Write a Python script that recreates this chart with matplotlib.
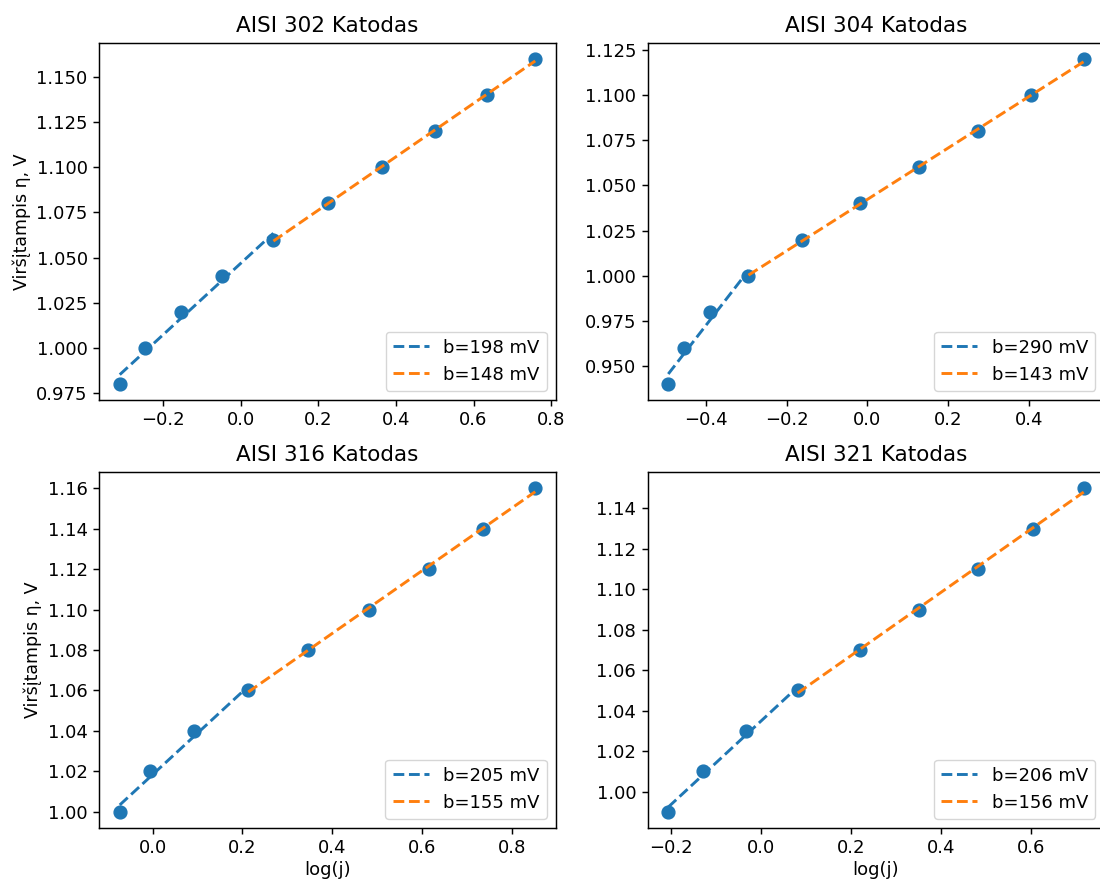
import numpy as np
import matplotlib
matplotlib.use("Agg")
import matplotlib.pyplot as plt
from matplotlib.ticker import FormatStrFormatter

# Tafel data for four stainless-steel cathodes: log(j) vs overpotential (V)
titles = ["AISI 302 Katodas", "AISI 304 Katodas", "AISI 316 Katodas", "AISI 321 Katodas"]

logj_302 = [-0.312, -0.248, -0.154, -0.048, 0.084, 0.224, 0.364, 0.501, 0.634, 0.759]
eta_302 = [0.98, 1.00, 1.02, 1.04, 1.06, 1.08, 1.10, 1.12, 1.14, 1.16]

logj_304 = [-0.492, -0.454, -0.389, -0.294, -0.162, -0.018, 0.128, 0.274, 0.405, 0.534]
eta_304 = [0.94, 0.96, 0.98, 1.00, 1.02, 1.04, 1.06, 1.08, 1.10, 1.12]

logj_316 = [-0.073, -0.006, 0.093, 0.213, 0.347, 0.481, 0.615, 0.736, 0.852]
eta_316 = [1.00, 1.02, 1.04, 1.06, 1.08, 1.10, 1.12, 1.14, 1.16]

logj_321 = [-0.207, -0.130, -0.035, 0.081, 0.219, 0.352, 0.483, 0.606, 0.718]
eta_321 = [0.99, 1.01, 1.03, 1.05, 1.07, 1.09, 1.11, 1.13, 1.15]

# index of the point where the Tafel slope changes
break_idx = [4, 3, 3, 3]

# Tafel slopes (mV/decade) for the low and high current regions
slope_low_mV = [198, 290, 205, 206]
slope_high_mV = [148, 143, 155, 156]

series = [(logj_302, eta_302), (logj_304, eta_304),
          (logj_316, eta_316), (logj_321, eta_321)]

plt.rcParams.update({
    "font.family": "DejaVu Sans",
    "font.size": 13,
    "axes.titlesize": 15.5,
    "axes.labelsize": 13,
    "xtick.labelsize": 13,
    "ytick.labelsize": 13,
    "legend.fontsize": 13,
    "axes.linewidth": 1.05,
    "xtick.major.width": 1.05,
    "ytick.major.width": 1.05,
    "xtick.major.size": 4.6,
    "ytick.major.size": 4.6,
})

W, H = 1100, 882
fig = plt.figure(figsize=(W / 100, H / 100), dpi=100)

# axes boxes in pixels: left, top, width, height
boxes = [(99, 43, 457, 357), (647.5, 43, 457, 357),
         (99, 472, 457, 356), (647.5, 472, 457, 356)]

blue = "#1f77b4"
orange = "#ff7f0e"


def segment_line(x, y, b):
    """Line with the given slope b through the centroid of the segment."""
    x = np.asarray(x, float)
    y = np.asarray(y, float)
    a = y.mean() - b * x.mean()
    return x, a + b * x


for i, (x, y) in enumerate(series):
    l, t, w, h = boxes[i]
    ax = fig.add_axes([l / W, 1 - (t + h) / H, w / W, h / H])
    ax.scatter(x, y, s=85, color=blue, zorder=2)

    k = break_idx[i]
    bl = slope_low_mV[i]
    bh = slope_high_mV[i]
    xl, yl = segment_line(x[:k + 1], y[:k + 1], bl / 1000)
    xh, yh = segment_line(x[k:], y[k:], bh / 1000)
    ax.plot(xl, yl, "--", color=blue, lw=2.1, label=f"b={bl} mV", zorder=3)
    ax.plot(xh, yh, "--", color=orange, lw=2.1, label=f"b={bh} mV", zorder=3)

    ax.set_title(titles[i], pad=8)
    if i % 2 == 0:
        ax.set_ylabel("Viršįtampis η, V", fontsize=12.5)
    if i >= 2:
        ax.set_xlabel("log(j)", labelpad=3)
    fmt = "%.3f" if i < 2 else "%.2f"
    ax.yaxis.set_major_formatter(FormatStrFormatter(fmt))
    ax.legend(loc="lower right")

fig.savefig("out.png", dpi=100)
